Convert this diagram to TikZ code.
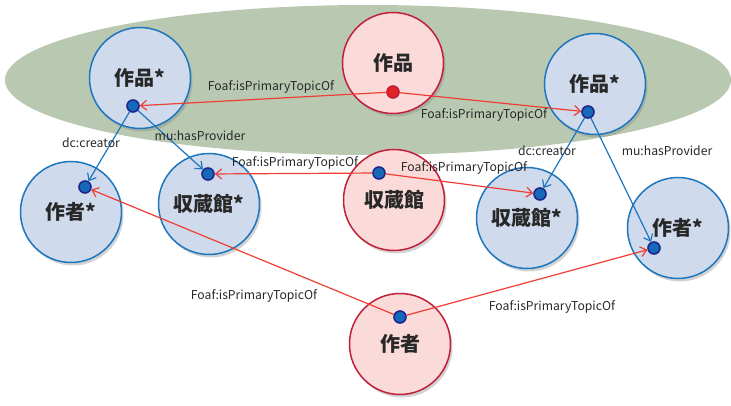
\documentclass[tikz,border=0pt]{standalone}
\usepackage{fontspec}
\newfontfamily\jpfont{Noto Sans CJK JP}
\definecolor{groupGreen}{RGB}{185, 201, 177}
\definecolor{copyBlue}{RGB}{207, 218, 236}
\definecolor{copyEdge}{RGB}{30, 118, 190}
\definecolor{origRed}{RGB}{251, 218, 218}
\definecolor{origEdge}{RGB}{192, 32, 58}
\definecolor{linkRed}{RGB}{240, 62, 52}
\definecolor{dotBlue}{RGB}{22, 104, 184}
\definecolor{dotRim}{RGB}{30, 40, 140}
\definecolor{dotRed}{RGB}{226, 36, 40}
\definecolor{labelGray}{RGB}{40, 40, 40}
\usetikzlibrary{shadows,arrows.meta}

\begin{document}
\begin{tikzpicture}[x=1pt,y=-1pt,
                copy/.style={circle,draw=copyEdge,fill=copyBlue,line width=1.5pt,minimum size=101pt,
                            inner sep=0pt,text=labelGray,font=\jpfont\bfseries\fontsize{20}{20}\selectfont,
                            drop shadow={shadow xshift=2pt,shadow yshift=-3pt,opacity=0.35}},
                orig/.style={copy,draw=origEdge,fill=origRed},
                hub/.style={circle,draw=dotRim,fill=dotBlue,line width=1.6pt,minimum size=12pt,inner sep=0pt},
                redhub/.style={hub,draw=origEdge,fill=dotRed},
                blink/.style={draw=copyEdge,line width=1.2pt,-{Straight Barb[length=6pt,width=10pt]}},
                rlink/.style={blink,draw=linkRed},
                prop/.style={font=\jpfont\fontsize{12.2}{14}\selectfont,text=labelGray,inner sep=1pt}
            ]
                \useasboundingbox (0,0) rectangle (731,406);
                \fill[groupGreen] (368,80) ellipse [x radius=363,y radius=75];
                
                % originals
                \node[orig] (workO) at (393,63) {作品};
                \node[orig] (musO) at (394,200) {収蔵館};
                \node[orig] (authO) at (400,344) {作者};
                
                % copies
                \node[copy] (workL) at (140,78) {作品*};
                \node[copy] (workR) at (595,84) {作品*};
                \node[copy] (authL) at (71,212) {作者*};
                \node[copy] (musL) at (209,204) {収蔵館*};
                \node[copy] (musR) at (527,218) {収蔵館*};
                \node[copy] (authR) at (678,228) {作者*};
                
                % resources
                \node[redhub] (dWorkO) at (393,92) {};
                \node[hub] (dMusO) at (379,173) {};
                \node[hub] (dAuthO) at (400,317) {};
                \node[hub] (dWorkL) at (133,106) {};
                \node[hub] (dWorkR) at (588,112) {};
                \node[hub] (dAuthL) at (85,187) {};
                \node[hub] (dMusL) at (208,174) {};
                \node[hub] (dMusR) at (540,194) {};
                \node[hub] (dAuthR) at (654,248) {};
                
                \draw[rlink] (dWorkO) -- (dWorkL);
                \draw[rlink] (dWorkO) -- (dWorkR);
                \draw[rlink] (dMusO) -- (dMusL);
                \draw[rlink] (dMusO) -- (dMusR);
                \draw[rlink] (dAuthO) -- (dAuthL);
                \draw[rlink] (dAuthO) -- (dAuthR);
                \draw[blink] (dWorkL) -- (dAuthL);
                \draw[blink] (dWorkL) -- (dMusL);
                \draw[blink] (dWorkR) -- (dMusR);
                \draw[blink] (dWorkR) -- (dAuthR);
                
                \node[prop] (pWorkL) at (271,87) {Foaf:isPrimaryTopicOf};
                \node[prop] (pWorkR) at (484,115) {Foaf:isPrimaryTopicOf};
                \node[prop] (pMusL) at (295,163) {Foaf:isPrimaryTopicOf};
                \node[prop] (pMusR) at (464,168) {Foaf:isPrimaryTopicOf};
                \node[prop] (pAuthL) at (254,296) {Foaf:isPrimaryTopicOf};
                \node[prop] (pAuthR) at (552,307) {Foaf:isPrimaryTopicOf};
                \node[prop] (cL) at (91,143) {dc:creator};
                \node[prop] (hL) at (200,136) {mu:hasProvider};
                \node[prop] (cR) at (547,151) {dc:creator};
                \node[prop] (hR) at (667,151) {mu:hasProvider};
            \end{tikzpicture}
\end{document}
